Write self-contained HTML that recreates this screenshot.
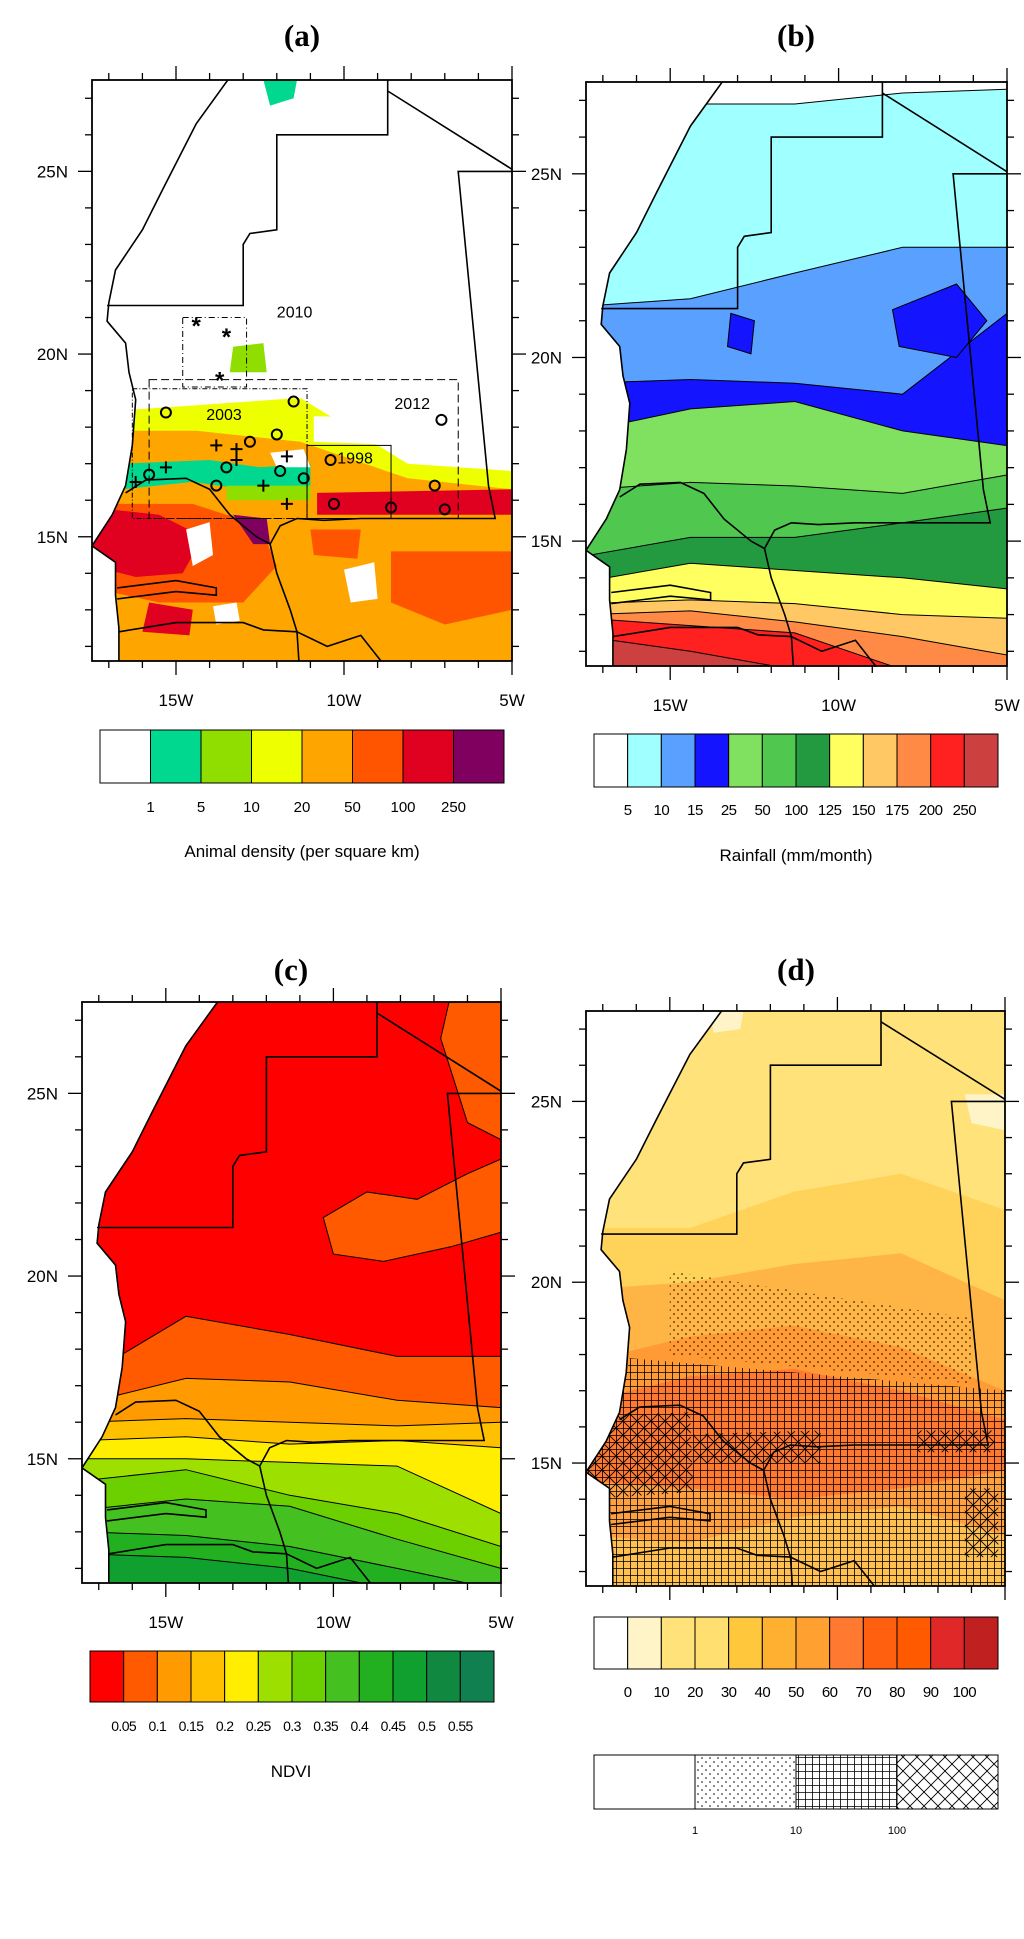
<!DOCTYPE html>
<html><head><meta charset="utf-8"><title>Mauritania/Senegal maps</title>
<style>
html,body{margin:0;padding:0;background:#fff;}
svg text{font-family:"Liberation Sans",sans-serif;}
.ttl{font-family:"Liberation Serif",serif;font-weight:bold;font-size:31px;}
</style></head>
<body>
<svg id="fig" xmlns="http://www.w3.org/2000/svg" width="1024" height="1934" viewBox="0 0 1024 1934">
<defs>
<pattern id="pdots" width="8" height="8" patternUnits="userSpaceOnUse"><circle cx="2" cy="2" r="0.8" fill="#000"/><circle cx="6" cy="6" r="0.8" fill="#000"/></pattern>
<pattern id="pgrid" width="7" height="7" patternUnits="userSpaceOnUse"><path d="M0 0.5H7M0.5 0V7" stroke="#000" stroke-width="0.8" fill="none"/></pattern>
<pattern id="pcross" width="14" height="14" patternUnits="userSpaceOnUse"><path d="M0 0L14 14M14 0L0 14" stroke="#000" stroke-width="0.9" fill="none"/></pattern>
</defs>
<rect x="0" y="0" width="1024" height="1934" fill="#fff"/>
<text class="ttl" x="302" y="46" text-anchor="middle">(a)</text>
<text class="ttl" x="796" y="46" text-anchor="middle">(b)</text>
<text class="ttl" x="291" y="980" text-anchor="middle">(c)</text>
<text class="ttl" x="796" y="980" text-anchor="middle">(d)</text>
<text x="302" y="857" font-size="17" text-anchor="middle">Animal density (per square km)</text>
<text x="796" y="861" font-size="17" text-anchor="middle">Rainfall (mm/month)</text>
<text x="291" y="1777" font-size="17" text-anchor="middle">NDVI</text>
<g id="layer"></g>
</svg>
<script>
// ---------- chart data ----------
const lonMajor = [-15, -10, -5];
const lonLabels = ["15W", "10W", "5W"];
const lonMinor = [-17, -16, -14, -13, -12, -11, -9, -8, -7, -6];
const latMajor = [25, 20, 15];
const latLabels = ["25N", "20N", "15N"];
const latMinor = [27, 26, 24, 23, 22, 21, 19, 18, 17, 16, 14, 13, 12];

const densityColors = ["#ffffff","#00d890","#90dd00","#eeff00","#ffa500","#ff5500","#e00020","#800060"];
const densityLabels = ["1","5","10","20","50","100","250"];
const rainColors = ["#ffffff","#a0ffff","#5aa0ff","#1414ff","#80e060","#50c850","#239a40","#ffff60","#ffc864","#ff8a46","#ff2020","#cc4040"];
const rainLabels = ["5","10","15","25","50","100","125","150","175","200","250"];
const ndviColors = ["#ff0000","#ff5a00","#ff9a00","#ffc000","#ffee00","#9de000","#6cd000","#44c020","#22b020","#10a030","#108840","#118050"];
const ndviLabels = ["0.05","0.1","0.15","0.2","0.25","0.3","0.35","0.4","0.45","0.5","0.55"];
const pctColors = ["#ffffff","#fff3c8","#ffe27a","#ffdf70","#ffc83c","#ffb030","#ffa030","#ff7a30","#ff6010","#ff5a00","#e02828","#c02020"];
const pctLabels = ["0","10","20","30","40","50","60","70","80","90","100"];
const patLabels = ["1","10","100"];

const boundaryLons = [-17.5, -14.4, -11.3, -8.1, -5];
const rainBandTops = [
  [27.0,26.9,26.9,27.2,27.3],
  [21.4,21.6,22.3,23.0,23.0],
  [19.3,19.4,19.3,19.0,21.2],
  [18.0,18.6,18.8,18.0,17.6],
  [16.4,16.6,16.5,16.3,16.8],
  [14.6,15.1,15.1,15.5,15.9],
  [13.9,14.4,14.2,14.0,13.7],
  [13.3,13.4,13.3,13.0,12.9],
  [13.0,13.1,12.8,12.4,11.9],
  [12.9,12.7,12.5,11.5,11.0],
  [12.4,12.0,11.5,11.0,11.0]
];
const ndviBandTops = [
  [17.2,18.9,18.4,17.8,17.8],
  [16.5,17.2,17.1,16.6,16.4],
  [16.0,16.1,16.0,15.9,16.0],
  [15.5,15.6,15.4,15.5,15.3],
  [15.0,15.0,14.9,14.8,13.5],
  [14.4,14.7,14.0,13.5,12.6],
  [13.6,13.9,13.7,12.8,12.0],
  [13.0,12.9,12.6,12.0,11.4],
  [12.4,12.3,12.0,11.4,11.0]
];
const pctBandColors = ["#ffd25a","#ffb545","#ff9a35","#ff7a30","#ffa040","#ffc050"];
const pctBandTops = [
  [21.5,21.5,22.5,23.0,22.0],
  [19.8,20.0,20.5,20.8,19.5],
  [17.8,18.5,18.8,18.2,17.0],
  [16.7,17.4,17.6,17.0,16.2],
  [14.5,14.3,14.0,14.3,14.8],
  [13.0,12.8,13.5,13.8,13.0]
];
const densityBandColors = ["#eeff00","#ffa500"];
const densityBandTops = [
  [18.4,18.6,18.8,17.0,16.8],
  [17.9,17.9,17.6,16.6,16.3]
];
const circleMarks = [[-15.3,18.4],[-11.5,18.7],[-12.0,17.8],[-12.8,17.6],[-13.5,16.9],[-11.9,16.8],[-11.2,16.6],[-13.8,16.4],[-15.8,16.7],[-10.4,17.1],[-10.3,15.9],[-8.6,15.8],[-7.1,18.2],[-7.3,16.4],[-7.0,15.75]];
const plusMarks = [[-13.8,17.5],[-13.2,17.4],[-13.2,17.1],[-15.3,16.9],[-11.7,17.2],[-12.4,16.4],[-11.7,15.9],[-16.2,16.5]];
const starMarks = [[-14.4,20.8],[-13.5,20.5],[-13.7,19.3]];

const coast = [[-13.3,27.7],[-14.4,26.3],[-15.4,24.5],[-16.0,23.4],[-16.8,22.3],[-17.0,21.4],[-17.05,20.9],[-16.5,20.3],[-16.4,19.5],[-16.2,18.75],[-16.3,17.5],[-16.5,16.4],[-16.9,15.6],[-17.5,14.75],[-16.8,14.3],[-16.8,13.4],[-16.7,12.5],[-16.7,10.5]];
const borders = [
  [[-17.05,21.33],[-13.0,21.33],[-13.0,23.0],[-12.8,23.3],[-12.0,23.4],[-12.0,26.0],[-8.7,26.0],[-8.7,27.7]],
  [[-8.7,27.2],[-4.9,25.0]],
  [[-4.9,25.0],[-6.6,25.0],[-5.7,16.4],[-5.5,15.5],[-9.5,15.5],[-10.6,15.45],[-11.4,15.5],[-11.9,15.3],[-12.2,14.8],[-12.6,15.0],[-13.4,15.6],[-14.0,16.3],[-14.7,16.6],[-15.9,16.55],[-16.5,16.2]],
  [[-12.2,14.8],[-12.0,14.0],[-11.6,13.0],[-11.4,12.4],[-11.3,11.0]],
  [[-16.75,13.6],[-15.0,13.8],[-13.8,13.6],[-13.8,13.4],[-15.0,13.5],[-16.75,13.3]],
  [[-16.7,12.4],[-15.0,12.65],[-13.0,12.65],[-12.4,12.45],[-11.4,12.4]],
  [[-11.4,12.4],[-10.5,12.0],[-9.5,12.3],[-8.9,11.6],[-8.7,11.0]]
];

// ---------- rendering ----------
const NS = "http://www.w3.org/2000/svg";
const svg = document.getElementById("fig");
const layer = document.getElementById("layer");
const defs = svg.querySelector("defs");
const PANELS = {
  a:{x0:92,x1:512,y0:80,y1:661},
  b:{x0:586,x1:1007,y0:82,y1:666},
  c:{x0:82,x1:501,y0:1002,y1:1583},
  d:{x0:586,x1:1005,y0:1011,y1:1586}
};
function proj(p, lon, lat){
  return [p.x0 + (lon + 17.5) / 12.5 * (p.x1 - p.x0), p.y0 + (27.5 - lat) / 15.9 * (p.y1 - p.y0)];
}
function ptsStr(pts){ return pts.map(q => q[0].toFixed(1) + "," + q[1].toFixed(1)).join(" "); }
function el(tag, attrs, parent){
  const e = document.createElementNS(NS, tag);
  for (const k in attrs) e.setAttribute(k, attrs[k]);
  (parent || layer).appendChild(e);
  return e;
}
function boundaryPts(p, lats){
  const pts = [proj(p, -18.5, lats[0])];
  boundaryLons.forEach((lo, i) => pts.push(proj(p, lo, lats[i])));
  pts.push(proj(p, -4, lats[4]));
  return pts;
}
function bandPts(p, lats){
  const pts = boundaryPts(p, lats);
  pts.push(proj(p, -4, 10)); pts.push(proj(p, -18.5, 10));
  return pts;
}
function geoPts(p, arr){ return arr.map(q => proj(p, q[0], q[1])); }

function panelGroups(key){
  const p = PANELS[key];
  const cf = el("clipPath", {id:"frame-" + key}, defs);
  el("rect", {x:p.x0, y:p.y0, width:p.x1 - p.x0, height:p.y1 - p.y0}, cf);
  const cl = el("clipPath", {id:"land-" + key}, defs);
  const landPts = geoPts(p, coast.concat([[-4.5,10.5],[-4.5,27.7]]));
  el("polygon", {points:ptsStr(landPts)}, cl);
  const g = el("g", {"clip-path":"url(#frame-" + key + ")"});
  
  
  const land = el("g", {"clip-path":"url(#land-" + key + ")"}, g);
  
  
  return {p, g, land};
}
function band(parent, p, lats, color, stroke){
  const e = el("polygon", {points:ptsStr(bandPts(p, lats)), fill:color, stroke:"none"}, parent);
  
  
  if (stroke){
    const l = el("polyline", {points:ptsStr(boundaryPts(p, lats)), fill:"none", stroke:"#000", "stroke-width":1}, parent);
    
    
  }
}
function blob(parent, p, arr, color, stroke){
  const e = el("polygon", {points:ptsStr(geoPts(p, arr)), fill:color, stroke:stroke ? "#000" : "none", "stroke-width":1}, parent);
  
  
  return e;
}
function geoOverlay(g, p){
  const c = el("polyline", {points:ptsStr(geoPts(p, coast)), fill:"none", stroke:"#000", "stroke-width":1.6}, g);
  
  
  borders.forEach(b => {
    const e = el("polyline", {points:ptsStr(geoPts(p, b)), fill:"none", stroke:"#000", "stroke-width":1.6}, g);
    
    
  });
}
function axes(key, latLabelRight, showLon){
  const p = PANELS[key];
  const fr = el("rect", {x:p.x0, y:p.y0, width:p.x1 - p.x0, height:p.y1 - p.y0, fill:"none", stroke:"#000", "stroke-width":1.8});
  
  
  const tick = (x1, y1, x2, y2) => {
    const t = el("line", {x1, y1, x2, y2, stroke:"#000", "stroke-width":1.3});
    
    
  };
  lonMajor.concat(lonMinor).forEach(lo => {
    const L = lonMajor.includes(lo) ? 14 : 7;
    const x = proj(p, lo, 20)[0];
    tick(x, p.y0, x, p.y0 - L); tick(x, p.y1, x, p.y1 + L);
  });
  latMajor.concat(latMinor).forEach(la => {
    const L = latMajor.includes(la) ? 14 : 7;
    const y = proj(p, -10, la)[1];
    tick(p.x0, y, p.x0 - L, y); tick(p.x1, y, p.x1 + L, y);
  });
  latMajor.forEach((la, i) => {
    const y = proj(p, -10, la)[1];
    const t = el("text", {x:p.x0 - 24, y:y + 6, "font-size":17, "text-anchor":"end"});
    t.textContent = latLabels[i];
    
    
  });
  if (showLon){
    lonMajor.forEach((lo, i) => {
      const x = proj(p, lo, 20)[0];
      const t = el("text", {x, y:p.y1 + 45, "font-size":17, "text-anchor":"middle"});
      t.textContent = lonLabels[i];
      
      
    });
  }
}
function colorbar(x0, x1, y0, y1, colors, labels, fs, ly, ls){
  const n = colors.length, w = (x1 - x0) / n;
  colors.forEach((c, i) => {
    const r = el("rect", {x:x0 + i * w, y:y0, width:w, height:y1 - y0, fill:c, stroke:"#000", "stroke-width":1});
    
    
  });
  labels.forEach((lb, i) => {
    const t = el("text", {x:x0 + (i + 1) * w, y:ly, "font-size":fs, "text-anchor":"middle", "letter-spacing":ls || 0});
    t.textContent = lb;
    
    
  });
}

// ----- panel a -----
(function(){
  const {p, g, land} = panelGroups("a");
  densityBandColors.forEach((c, i) => band(land, p, densityBandTops[i], c, false));
  blob(land, p, [[-16.6,17.0],[-14,17.1],[-12.5,16.9],[-11,17.0],[-11,16.4],[-13,16.3],[-14.5,16.5],[-16.6,16.3]], "#00d890");
  blob(land, p, [[-13.5,16.4],[-11.0,16.4],[-11.0,16.0],[-13.5,16.0]], "#90dd00");
  blob(land, p, [[-17.5,15.9],[-14.5,15.9],[-12.5,15.3],[-12.0,14.2],[-13.0,13.2],[-15.5,13.2],[-17.5,13.6]], "#ff5500");
  blob(land, p, [[-17.5,15.8],[-15.5,15.6],[-14.2,15.0],[-14.8,14.0],[-16.2,13.9],[-17.5,14.2]], "#e00020");
  blob(land, p, [[-15.8,13.2],[-14.5,13.0],[-14.6,12.3],[-16.0,12.4]], "#e00020");
  blob(land, p, [[-10.8,16.2],[-5.0,16.3],[-5.0,15.6],[-10.8,15.6]], "#e00020");
  blob(land, p, [[-8.6,14.6],[-5,14.6],[-5,13.0],[-7.0,12.6],[-8.6,13.2]], "#ff5500");
  blob(land, p, [[-11.0,15.2],[-9.5,15.2],[-9.6,14.4],[-10.9,14.5]], "#ff5500");
  blob(land, p, [[-13.3,15.6],[-12.3,15.5],[-12.2,14.8],[-12.7,14.8]], "#800060");
  blob(land, p, [[-14.7,15.2],[-14.0,15.4],[-13.9,14.5],[-14.5,14.2]], "#ffffff");
  blob(land, p, [[-13.9,13.1],[-13.2,13.2],[-13.1,12.7],[-13.8,12.6]], "#ffffff");
  blob(land, p, [[-10.0,14.1],[-9.1,14.3],[-9.0,13.3],[-9.8,13.2]], "#ffffff");
  blob(land, p, [[-10.9,18.3],[-5.5,18.2],[-5.5,17.2],[-8.0,17.5],[-10.9,17.6]], "#ffffff");
  blob(land, p, [[-12.2,17.3],[-11.2,17.4],[-11.0,16.9],[-12.0,16.9]], "#ffffff");
  blob(land, p, [[-12.4,27.5],[-11.4,27.5],[-11.5,27.0],[-12.2,26.8]], "#00d890");
  blob(land, p, [[-13.3,20.2],[-12.4,20.3],[-12.3,19.5],[-13.4,19.5]], "#90dd00");
  geoOverlay(g, p);
  const box = (lo0, la0, lo1, la1, dash) => {
    const a = proj(p, lo0, la1), b = proj(p, lo1, la0);
    const r = el("rect", {x:a[0], y:a[1], width:b[0] - a[0], height:b[1] - a[1], fill:"none", stroke:"#000", "stroke-width":1, "stroke-dasharray":dash}, g);
    
    
  };
  box(-14.8, 19.1, -12.9, 21.0, "6,3,1,3");
  box(-15.8, 15.5, -6.6, 19.3, "8,4");
  box(-16.3, 15.5, -11.1, 19.05, "5,2,1,2");
  box(-11.1, 15.5, -8.6, 17.5, "none");
  [["2010",-12.0,21.0],["2012",-8.5,18.5],["2003",-14.1,18.2],["1998",-10.2,17.0]].forEach(q => {
    const xy = proj(p, q[1], q[2]);
    const t = el("text", {x:xy[0], y:xy[1], "font-size":16}, g);
    t.textContent = q[0];
    
    
  });
  circleMarks.forEach(m => {
    const xy = proj(p, m[0], m[1]);
    const c = el("circle", {cx:xy[0], cy:xy[1], r:5, fill:"none", stroke:"#000", "stroke-width":2}, g);
    
    
  });
  plusMarks.forEach(m => {
    const xy = proj(p, m[0], m[1]);
    const c = el("path", {d:`M${xy[0]-6} ${xy[1]}H${xy[0]+6}M${xy[0]} ${xy[1]-6}V${xy[1]+6}`, stroke:"#000", "stroke-width":2}, g);
    
    
  });
  starMarks.forEach(m => {
    const xy = proj(p, m[0], m[1]);
    const t = el("text", {x:xy[0], y:xy[1] + 9, "font-size":24, "font-weight":"bold", "text-anchor":"middle"}, g);
    t.textContent = "*";
    
    
  });
  axes("a", false, true);
  colorbar(100, 504, 730, 783, densityColors, densityLabels, 15, 812);
})();

// ----- panel b -----
(function(){
  const {p, g, land} = panelGroups("b");
  rainBandTops.forEach((lats, i) => band(land, p, lats, rainColors[i + 1], true));
  blob(land, p, [[-13.2,21.2],[-12.5,21.0],[-12.6,20.1],[-13.3,20.3]], "#1414ff", true);
  blob(land, p, [[-8.4,21.3],[-6.5,22.0],[-5.6,21.0],[-6.5,20.0],[-8.2,20.3]], "#1414ff", true);
  geoOverlay(g, p);
  axes("b", false, true);
  colorbar(594, 998, 734, 787, rainColors, rainLabels, 15, 815, -0.5);
})();

// ----- panel c -----
(function(){
  const {p, g, land} = panelGroups("c");
  el("rect", {x:0, y:0, width:1024, height:1934, fill:ndviColors[0]}, land);
  blob(land, p, [[-10.3,21.6],[-9.0,22.3],[-7.5,22.1],[-6.0,22.8],[-5,23.2],[-5,21.2],[-6.5,20.8],[-8.5,20.4],[-10.0,20.6]], ndviColors[1], true);
  blob(land, p, [[-6.5,27.7],[-4.5,27.7],[-4.5,23.5],[-6.0,24.2],[-6.8,26.5]], ndviColors[1], true);
  ndviBandTops.forEach((lats, i) => band(land, p, lats, ndviColors[i + 1], true));
  geoOverlay(g, p);
  axes("c", false, true);
  colorbar(90, 494, 1651, 1702, ndviColors, ndviLabels, 14, 1731, -0.6);
})();

// ----- panel d -----
(function(){
  const {p, g, land} = panelGroups("d");
  el("rect", {x:0, y:0, width:1024, height:1934, fill:"#ffe27a"}, land);
  pctBandColors.forEach((c, i) => band(land, p, pctBandTops[i], c, false));
  blob(land, p, [[-13.8,27.5],[-12.8,27.5],[-12.9,27.0],[-13.7,26.9]], "#fff3c8");
  blob(land, p, [[-6.2,25.2],[-5,25.2],[-5,24.2],[-6.0,24.4]], "#fff3c8");
  blob(land, p, [[-16.2,17.9],[-5,17.0],[-5,11.0],[-16.7,11.0],[-17.5,14.7],[-16.5,16.5]], "url(#pgrid)");
  blob(land, p, [[-15.0,20.3],[-6.0,19.0],[-6.0,17.2],[-15.0,18.0]], "url(#pdots)");
  blob(land, p, [[-17.5,16.3],[-14.4,16.4],[-14.3,14.2],[-17.5,14.0]], "url(#pcross)");
  blob(land, p, [[-14.3,15.8],[-10.5,15.9],[-10.5,15.0],[-14.3,15.0]], "url(#pcross)");
  blob(land, p, [[-7.6,15.9],[-5.3,15.9],[-5.3,15.3],[-7.6,15.3]], "url(#pcross)");
  blob(land, p, [[-6.2,14.3],[-5.2,14.3],[-5.2,12.4],[-6.2,12.4]], "url(#pcross)");
  geoOverlay(g, p);
  axes("d", false, false);
  colorbar(594, 998, 1617, 1669, pctColors, pctLabels, 15, 1697, -0.5);
  const pats = ["#ffffff", "url(#pdots)", "url(#pgrid)", "url(#pcross)"];
  const w = (998 - 594) / 4;
  pats.forEach((f, i) => {
    const r = el("rect", {x:594 + i * w, y:1755, width:w, height:54, fill:f, stroke:"#000", "stroke-width":1});
    
    
  });
  patLabels.forEach((lb, i) => {
    const t = el("text", {x:594 + (i + 1) * w, y:1834, "font-size":11, "text-anchor":"middle"});
    t.textContent = lb;
    
    
  });
})();
</script>
</body></html>
